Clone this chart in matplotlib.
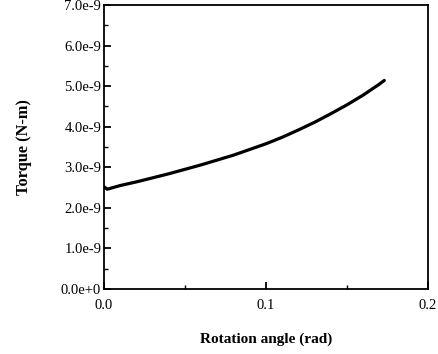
import matplotlib
matplotlib.use("Agg")
import matplotlib.pyplot as plt
from matplotlib.ticker import MultipleLocator

angle = [0.0, 0.002, 0.01, 0.02, 0.03, 0.04, 0.05, 0.06, 0.07, 0.08, 0.09,
         0.10, 0.11, 0.12, 0.13, 0.14, 0.15, 0.16, 0.17, 0.173]
torque = [2.52e-9, 2.46e-9, 2.55e-9, 2.64e-9, 2.74e-9, 2.84e-9, 2.95e-9, 3.06e-9,
          3.18e-9, 3.30e-9, 3.44e-9, 3.58e-9, 3.74e-9, 3.92e-9, 4.11e-9, 4.32e-9,
          4.54e-9, 4.78e-9, 5.05e-9, 5.14e-9]

xticks = [0.0, 0.1, 0.2]
xticklabels = ["0.0", "0.1", "0.2"]
yticks = [i * 1e-9 for i in range(8)]
yticklabels = ["0.0e+0", "1.0e-9", "2.0e-9", "3.0e-9", "4.0e-9", "5.0e-9", "6.0e-9", "7.0e-9"]

plt.rcParams['font.family'] = ['Liberation Serif', 'DejaVu Serif']

fig = plt.figure(figsize=(4.38, 3.54), dpi=100)
ax = fig.add_axes([104/438, 1 - 289/354, (428-104)/438, (289-5)/354])

ax.plot(angle, torque, color='black', linewidth=2.3, solid_capstyle='round',
        solid_joinstyle='round')

ax.set_xlim(0, 0.2)
ax.set_ylim(0, 7e-9)
ax.set_xticks(xticks)
ax.set_xticklabels(xticklabels)
ax.set_yticks(yticks)
ax.set_yticklabels(yticklabels)
ax.xaxis.set_minor_locator(MultipleLocator(0.05))
ax.yaxis.set_minor_locator(MultipleLocator(0.5e-9))

ax.tick_params(which='major', direction='in', length=5, width=1.3, labelsize=10.5, pad=2,
               top=False, right=False)
ax.tick_params(which='minor', direction='in', length=3, width=1.0, top=False, right=False)
ax.tick_params(axis='x', pad=7)

for s in ax.spines.values():
    s.set_linewidth(1.3)

ax.set_xlabel("Rotation angle (rad)", fontsize=11, fontweight='bold', labelpad=15)
ax.set_ylabel("Torque (N-m)", fontsize=11.8, fontweight='bold', labelpad=21)

fig.savefig("out.png", dpi=100)
